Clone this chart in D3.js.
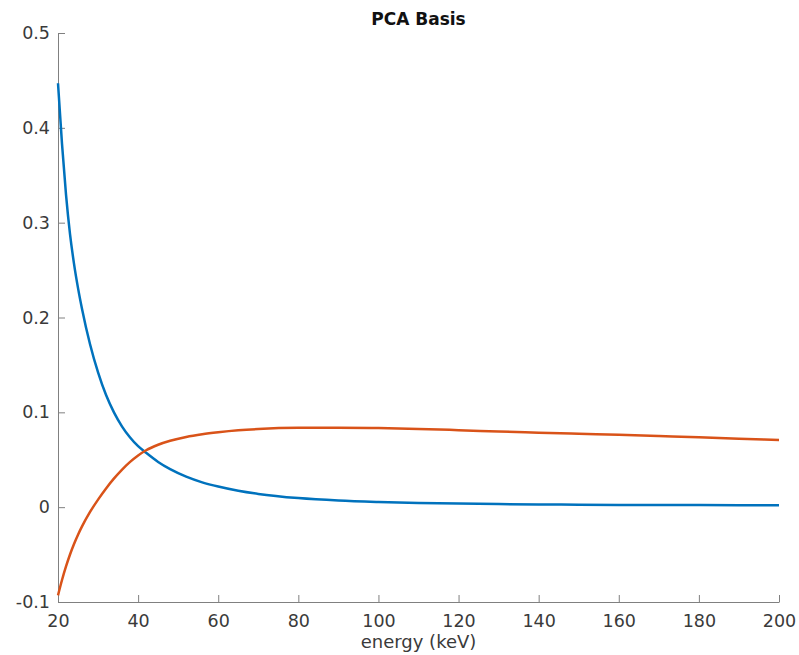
<!DOCTYPE html>
<html>
<head>
<meta charset="utf-8">
<script src="https://cdn.jsdelivr.net/npm/d3@7"></script>
<style>
  body { margin: 0; background: #fff; }
  .axis text { font-family: "DejaVu Sans", sans-serif; font-size: 17.5px; fill: #3a3a3a; }
  .axis path, .axis line { stroke: #808080; stroke-width: 1; }
</style>
</head>
<body>
<div id="chart"></div>
<script>
// energy grid (keV) and the two PCA basis vectors
var energy = [20, 21, 22, 23, 24, 25, 26, 28, 30, 32, 34, 36, 38, 40, 42, 45, 48, 52, 56, 60,
              65, 70, 80, 90, 100, 110, 120, 130, 140, 150, 160, 170, 180, 190, 200];
var basis1 = [0.447, 0.383, 0.3295, 0.288, 0.2566, 0.231, 0.209, 0.1718, 0.1421, 0.1182, 0.0997,
              0.085, 0.0735, 0.0643, 0.0573, 0.0477, 0.0401, 0.0322, 0.0262, 0.0217, 0.0173,
              0.0140, 0.0096, 0.0070, 0.0055, 0.0045, 0.0038, 0.0033, 0.0029, 0.0026, 0.0024,
              0.0023, 0.0022, 0.0021, 0.0021];
var basis2 = [-0.093, -0.0768, -0.0625, -0.0499, -0.0388, -0.0290, -0.0203, -0.0050, 0.0080, 0.0198,
              0.0303, 0.0396, 0.0477, 0.0545, 0.0600, 0.0658, 0.0700, 0.0740, 0.0768, 0.0789,
              0.0810, 0.0824, 0.0837, 0.0838, 0.0834, 0.0825, 0.0812, 0.0798, 0.0786, 0.0774,
              0.0763, 0.0750, 0.0737, 0.0722, 0.0707];
var xTicks = [20, 40, 60, 80, 100, 120, 140, 160, 180, 200];
var yTicks = [-0.1, 0, 0.1, 0.2, 0.3, 0.4, 0.5];
var colors = ['#0072BD', '#D95319'];

var W = 799, H = 655;
var margin = {top: 33, right: 20, bottom: 53, left: 58},
    width = W - margin.left - margin.right,
    height = H - margin.top - margin.bottom;

var svg = d3.select('#chart').append('svg')
    .attr('width', W)
    .attr('height', H);

var g = svg.append('g').attr('transform', 'translate(' + margin.left + ',' + margin.top + ')');

var x = d3.scaleLinear().domain([20, 200]).range([0, width]);
var y = d3.scaleLinear().domain([-0.1, 0.5]).range([height, 0]);

g.append('g')
    .attr('class', 'axis')
    .attr('transform', 'translate(0,' + height + ')')
    .call(d3.axisBottom(x).tickValues(xTicks).tickSizeInner(-7).tickSizeOuter(0).tickPadding(13));

g.append('g')
    .attr('class', 'axis')
    .call(d3.axisLeft(y).tickValues(yTicks).tickSizeInner(-7).tickSizeOuter(0).tickPadding(8)
      .tickFormat(function(d) { return d3.format('.1~f')(d).replace('−', '-'); }));

var line = d3.line()
    .x(function(d) { return x(d[0]); })
    .y(function(d) { return y(d[1]); })
    .curve(d3.curveMonotoneX);

[basis1, basis2].forEach(function(s, i) {
  g.append('path')
      .datum(energy.map(function(e, k) { return [e, s[k]]; }))
      .attr('fill', 'none')
      .attr('stroke', colors[i])
      .attr('stroke-width', 2.5)
      .attr('stroke-linejoin', 'round')
      .attr('d', line);
});

svg.append('text')
    .attr('x', margin.left + width / 2)
    .attr('y', 25)
    .attr('text-anchor', 'middle')
    .style('font-family', '"DejaVu Sans", sans-serif')
    .style('font-weight', 'bold')
    .style('font-size', '17px')
    .style('fill', '#111')
    .text('PCA Basis');

svg.append('text')
    .attr('x', margin.left + width / 2)
    .attr('y', 648)
    .attr('text-anchor', 'middle')
    .style('font-family', '"DejaVu Sans", sans-serif')
    .style('font-size', '18px')
    .style('fill', '#3a3a3a')
    .text('energy (keV)');
</script>
</body>
</html>
